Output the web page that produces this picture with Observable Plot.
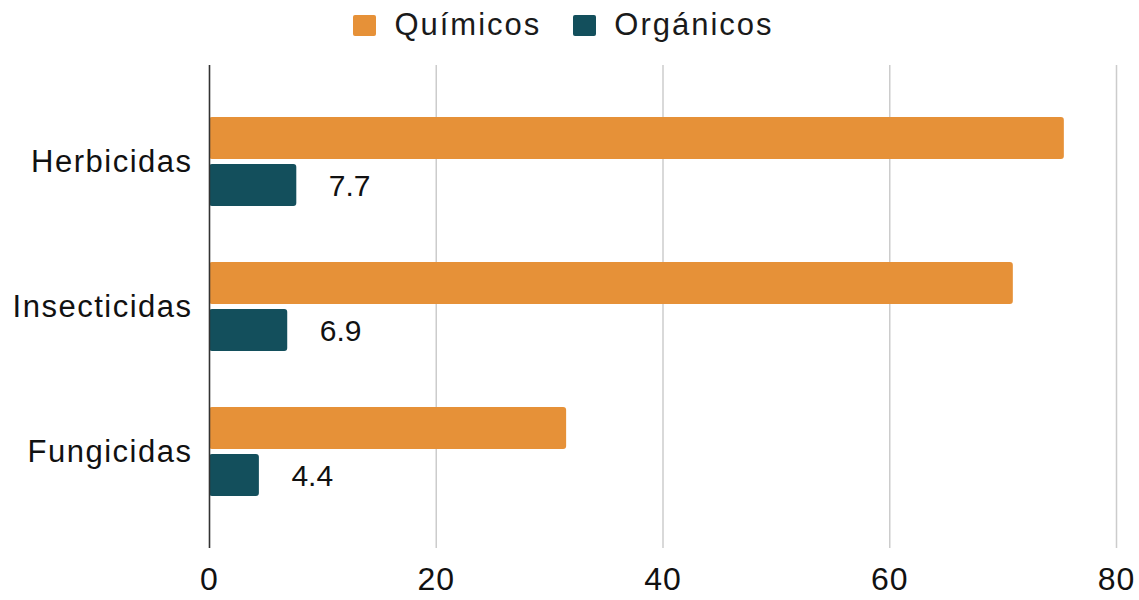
<!DOCTYPE html>
<html>
<head>
<meta charset="utf-8">
<script src="https://cdn.jsdelivr.net/npm/d3@7"></script>
<script src="https://cdn.jsdelivr.net/npm/@observablehq/plot@0.6"></script>
<style>
  html, body { margin: 0; padding: 0; background: #fff; }
  body { width: 1139px; height: 600px; overflow: hidden; font-family: "Liberation Sans", Arial, sans-serif; }
  #legend { height: 50px; display: flex; justify-content: center; align-items: center; padding-right: 12px; box-sizing: border-box; }
  .item { display: flex; align-items: center; font-size: 31px; letter-spacing: 2px; color: #1a1a1a; }
  .item + .item { margin-left: 32px; }
  .sw { width: 23px; height: 21px; border-radius: 2px; margin-right: 18px; }
  svg g[aria-label="y-axis tick label"] text { letter-spacing: 1.5px; }
  svg g[aria-label="x-axis tick label"] text { letter-spacing: 1px; }
</style>
</head>
<body>
<div id="legend"></div>
<div id="chart"></div>
<script>
const categories = ["Herbicidas", "Insecticidas", "Fungicidas"];
const quimicos = [75.4, 70.9, 31.5];
const organicos = [7.7, 6.9, 4.4];
const seriesNames = ["Químicos", "Orgánicos"];
const seriesColors = ["#E69138", "#134F5C"];
const xTicks = [0, 20, 40, 60, 80];

const qData = categories.map((c, i) => ({category: c, value: quimicos[i]}));
const oData = categories.map((c, i) => ({category: c, value: organicos[i]}));

const legend = document.getElementById("legend");
seriesNames.forEach((n, i) => {
  const it = document.createElement("div");
  it.className = "item";
  const sw = document.createElement("span");
  sw.className = "sw";
  sw.style.background = seriesColors[i];
  it.appendChild(sw);
  const t = document.createElement("span");
  t.textContent = n;
  it.appendChild(t);
  legend.appendChild(it);
});

const chart = Plot.plot({
  width: 1139,
  height: 550,
  marginTop: 15,
  marginBottom: 52,
  marginLeft: 209,
  marginRight: 23,
  style: {fontFamily: "'Liberation Sans', Arial, sans-serif", color: "#111", background: "#fff"},
  x: {domain: [0, 80]},
  y: {domain: categories, paddingInner: 0.386, paddingOuter: 0.3586, round: false},
  marks: [
    Plot.gridX(xTicks, {stroke: "#cccccc", strokeOpacity: 1, strokeWidth: 1.5}),
    Plot.barX(qData, {x: "value", y: "category", fill: seriesColors[0], insetBottom: 47, rx: 3}),
    Plot.barX(oData, {x: "value", y: "category", fill: seriesColors[1], insetTop: 47, rx: 3}),
    Plot.ruleX([0], {stroke: "#333", strokeWidth: 1.5}),
    Plot.text(oData, {x: "value", y: "category", text: d => d.value.toFixed(1), dx: 32, dy: 24, textAnchor: "start", fontSize: 30, fill: "#111"}),
    Plot.axisX({ticks: xTicks, tickSize: 0, tickPadding: 19, fontSize: 32, label: null}),
    Plot.axisY({tickSize: 0, tickPadding: 17, fontSize: 31, label: null})
  ]
});
document.getElementById("chart").appendChild(chart);
</script>
</body>
</html>
